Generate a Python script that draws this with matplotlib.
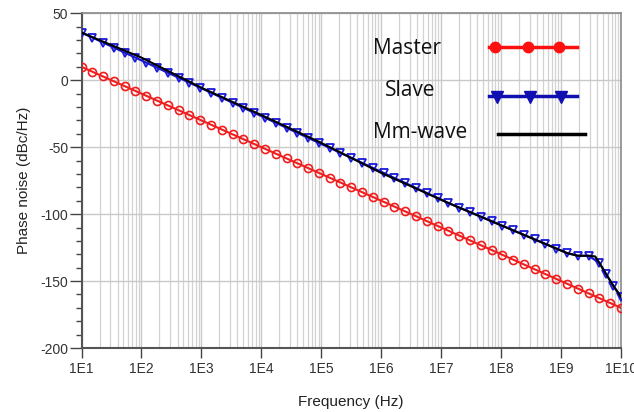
import matplotlib
matplotlib.use("Agg")
import matplotlib.pyplot as plt
import numpy as np
from matplotlib.ticker import LogLocator, FixedLocator, MultipleLocator, FuncFormatter, NullFormatter
from matplotlib.lines import Line2D

plt.rcParams["axes.unicode_minus"] = False

# ---- data ----
master_exp = [1.0, 1.18, 1.36, 1.54, 1.72, 1.9, 2.08, 2.26, 2.44, 2.62,
              2.8, 2.98, 3.16, 3.34, 3.52, 3.7, 3.88, 4.06, 4.24, 4.42,
              4.6, 4.78, 4.96, 5.14, 5.32, 5.5, 5.68, 5.86, 6.04, 6.22,
              6.4, 6.58, 6.76, 6.94, 7.12, 7.3, 7.48, 7.66, 7.84, 8.02,
              8.2, 8.38, 8.56, 8.74, 8.92, 9.1, 9.28, 9.46, 9.64, 9.82, 10.0]
master_db = [10.0, 6.4, 2.8, -0.8, -4.4, -8.0, -11.6, -15.2, -18.8, -22.4,
             -26.0, -29.6, -33.2, -36.8, -40.4, -44.0, -47.6, -51.2, -54.8, -58.4,
             -62.0, -65.6, -69.2, -72.8, -76.4, -80.0, -83.6, -87.2, -90.8, -94.4,
             -98.0, -101.6, -105.2, -108.8, -112.4, -116.0, -119.6, -123.2, -126.8, -130.4,
             -134.0, -137.6, -141.2, -144.8, -148.4, -152.0, -155.6, -159.2, -162.8, -166.4, -170.0]

slave_exp = [1.0, 1.18, 1.36, 1.54, 1.72, 1.9, 2.08, 2.26, 2.44, 2.62,
             2.8, 2.98, 3.16, 3.34, 3.52, 3.7, 3.88, 4.06, 4.24, 4.42,
             4.6, 4.78, 4.96, 5.14, 5.32, 5.5, 5.68, 5.86, 6.04, 6.22,
             6.4, 6.58, 6.76, 6.94, 7.12, 7.3, 7.48, 7.66, 7.84, 8.02,
             8.2, 8.38, 8.56, 8.74, 8.92, 9.1, 9.28, 9.46, 9.64, 9.75, 9.87, 10.0]
slave_db = [35.6, 31.9, 28.1, 24.4, 20.6, 16.9, 13.1, 9.4, 5.6, 1.9,
            -1.8, -5.6, -9.3, -13.1, -16.8, -20.6, -24.3, -28.0, -31.8, -35.5,
            -39.3, -43.0, -46.8, -50.5, -54.3, -58.0, -61.7, -65.5, -69.2, -73.0,
            -76.7, -80.5, -84.2, -87.9, -91.7, -95.1, -98.5, -101.9, -105.3, -108.7,
            -112.1, -115.5, -118.9, -122.3, -125.7, -129.1, -131.1, -131.1, -136.5, -144.7, -153.4, -161.9]

mm_exp = [1.0, 2.0, 3.0, 4.0, 5.0, 6.0, 7.12, 8.02, 9.1, 9.28, 9.46, 9.57, 9.64, 9.75, 9.87, 10.0]
mm_db = [35.6, 16.9, -5.6, -26.0, -46.8, -69.2, -91.7, -108.7, -129.1, -131.1, -131.1, -131.6, -136.5, -144.7, -153.4, -161.9]

xtick_labels = ["1E1", "1E2", "1E3", "1E4", "1E5", "1E6", "1E7", "1E8", "1E9", "1E10"]
legend_names = ["Master", "Slave", "Mm-wave"]

master_f = 10.0 ** np.array(master_exp)
slave_f = 10.0 ** np.array(slave_exp)
mm_f = 10.0 ** np.array(mm_exp)

RED = "#f01e1e"
BLUE = "#1414c8"
LBLUE = "#1a1ad8"

fig = plt.figure(figsize=(6.34, 4.12), dpi=100)
ax = fig.add_axes([81.5 / 634, 1 - 348 / 412, (621 - 81.5) / 634, (348 - 13.3) / 412])

ax.set_xscale("log")
ax.set_xlim(1e1, 1e10)
ax.set_ylim(-200, 50)

ax.plot(master_f, master_db, color=RED, lw=1.5, marker="o", ms=5.8, mfc="none",
        mec=RED, mew=1.2, zorder=3)
ax.plot(slave_f, slave_db, color=BLUE, lw=1.5, marker="v", ms=5.2, mfc="none",
        mec=LBLUE, mew=1.3, zorder=3)
ax.plot(mm_f, mm_db, color="black", lw=1.5, zorder=4)

# ticks / grid
ax.xaxis.set_major_locator(FixedLocator([10.0 ** k for k in range(1, 11)]))
ax.xaxis.set_major_formatter(FuncFormatter(lambda v, p: xtick_labels[int(round(np.log10(v))) - 1]))
ax.xaxis.set_minor_locator(LogLocator(base=10, subs=np.arange(2, 10), numticks=100))
ax.xaxis.set_minor_formatter(NullFormatter())
ax.yaxis.set_major_locator(MultipleLocator(50))
ax.yaxis.set_minor_locator(MultipleLocator(10))

ax.grid(True, which="major", axis="both", color="#c9c9c9", lw=1.0)
ax.grid(True, which="minor", axis="x", color="#d2d2d2", lw=0.9)
ax.set_axisbelow(True)

ax.tick_params(axis="x", which="major", direction="out", length=7, width=1.0,
               color="#444444", labelsize=10, labelcolor="#333333", pad=3)
ax.tick_params(axis="x", which="minor", length=0)
ax.tick_params(axis="y", which="major", direction="out", length=8.5, width=1.0,
               color="#444444", labelsize=10, labelcolor="#333333", pad=1)
ax.tick_params(axis="y", which="minor", direction="out", length=4.3, width=1.0,
               color="#444444")

for lab in ax.get_xticklabels() + ax.get_yticklabels():
    lab.set_fontfamily("Liberation Sans")

for s in ["left", "bottom"]:
    ax.spines[s].set_color("#555555")
    ax.spines[s].set_linewidth(1.5)
for s in ["top", "right"]:
    ax.spines[s].set_color("#8a8a8a")
    ax.spines[s].set_linewidth(1.2)

ax.set_xlabel("Frequency (Hz)", fontsize=11, family="Liberation Sans", color="#222222", labelpad=14)
ax.set_ylabel("Phase noise (dBc/Hz)", fontsize=11, family="Liberation Sans", color="#222222", labelpad=7)

# custom legend (figure pixel coords -> figure fraction)
def fx(px):
    return px / 634.0

def fy(py):
    return 1 - py / 412.0

fs_leg = 15
fig.text(fx(373), fy(48), legend_names[0], fontsize=fs_leg, family="Open Sans",
         va="center", ha="left", color="#111111")
fig.text(fx(385), fy(91), legend_names[1], fontsize=fs_leg, family="Open Sans",
         va="center", ha="left", color="#111111")
fig.text(fx(373), fy(132), legend_names[2], fontsize=fs_leg, family="Open Sans",
         va="center", ha="left", color="#111111")

fig.add_artist(Line2D([fx(489), fx(577)], [fy(46.7), fy(46.7)], color="#ff1010", lw=2.5))
fig.add_artist(Line2D([fx(495), fx(527.7), fx(559)], [fy(46.7)] * 3, color="#ff1010", lw=0,
                      marker="o", ms=7.5, mfc="#ff1010", mec="#ff1010"))
fig.add_artist(Line2D([fx(489), fx(577)], [fy(96), fy(96)], color="#1010b0", lw=2.5))
fig.add_artist(Line2D([fx(497), fx(530), fx(561)], [fy(97)] * 3, color="#1010b0", lw=0,
                      marker="v", ms=9, mfc="#1010b0", mec="#1010b0"))
fig.add_artist(Line2D([fx(498), fx(585)], [fy(134), fy(134)], color="black", lw=2.5))

fig.savefig("out.png", dpi=100)
